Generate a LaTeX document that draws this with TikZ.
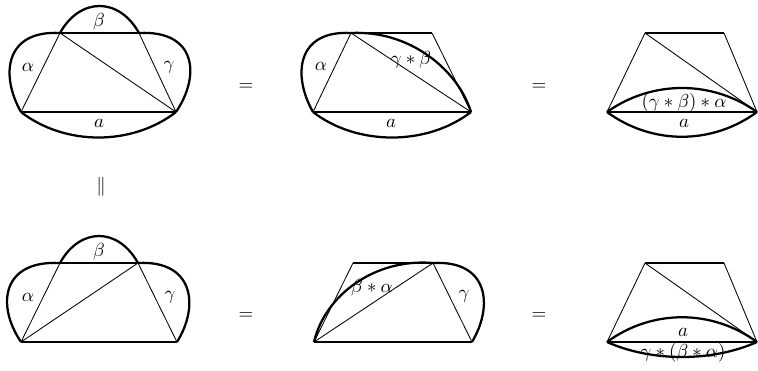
\documentclass[tikz,border=0pt]{standalone}
\begin{document}
\begin{tikzpicture}[x=0.53pt,y=-0.53pt,
  thinline/.style={line width=0.45pt},
  thickline/.style={line width=1.2pt, line join=round},
  lbl/.style={inner sep=0pt}]
\useasboundingbox (0,0) rectangle (758,370);
% ---------- panel 1 (top left)
\coordinate (A1) at (21,112); \coordinate (B1) at (176,112);
\coordinate (C1) at (139,33); \coordinate (D1) at (60,33);
\draw[thinline] (A1) -- (D1) (C1) -- (B1) (D1) -- (B1);
\draw[thickline] (A1) -- (B1) (D1) -- (C1);
\draw[thickline] (A1) .. controls (0,75) and (5,30) .. (D1);
\draw[thickline] (C1) .. controls (196,30) and (201,75) .. (B1);
\draw[thickline] (D1) .. controls (80,-3) and (119,-3) .. (C1);
\draw[thickline] (A1) .. controls (65,146) and (132,146) .. (B1);
\node[lbl] (al1) at (28,67) {$\alpha$};
\node[lbl] (be1) at (99,22) {$\beta$};
\node[lbl] (ga1) at (169,67) {$\gamma$};
\node[lbl] (a1) at (99,123) {$a$};
% ---------- panel 2 (top middle)
\coordinate (A2) at (313,112); \coordinate (B2) at (471,112);
\coordinate (C2) at (432,33); \coordinate (D2) at (351,33);
\draw[thinline] (A2) -- (D2) (C2) -- (B2) (D2) -- (B2);
\draw[thickline] (A2) -- (B2) (D2) -- (C2);
\draw[thickline] (A2) .. controls (292,75) and (297,30) .. (D2);
\draw[thickline] (D2) .. controls (410,30) and (458,70) .. (B2);
\draw[thickline] (A2) .. controls (357,146) and (427,146) .. (B2);
\node[lbl] (al2) at (321,66) {$\alpha$};
\node[lbl] (gb2) at (411,60) {$\gamma*\beta$};
\node[lbl] (a2) at (391,123) {$a$};
% ---------- panel 3 (top right)
\coordinate (A3) at (607,112); \coordinate (B3) at (757,112);
\coordinate (C3) at (724,33); \coordinate (D3) at (645,33);
\draw[thinline] (A3) -- (D3) (C3) -- (B3) (D3) -- (B3);
\draw[thickline] (D3) -- (C3) (A3) -- (B3);
\draw[thickline] (A3) .. controls (652,80) and (712,80) .. (B3);
\draw[thickline] (A3) .. controls (652,145) and (712,145) .. (B3);
\node[lbl] (gba3) at (684,103) {$(\gamma*\beta)*\alpha$};
\node[lbl] (a3) at (684,123) {$a$};
% ---------- panel 4 (bottom left)
\coordinate (A4) at (21,342); \coordinate (B4) at (177,342);
\coordinate (C4) at (138,263); \coordinate (D4) at (60,263);
\draw[thinline] (A4) -- (D4) (C4) -- (B4) (A4) -- (C4);
\draw[thickline] (A4) -- (B4) (D4) -- (C4);
\draw[thickline] (A4) .. controls (-4,305) and (2,260) .. (D4);
\draw[thickline] (C4) .. controls (193,260) and (200,305) .. (B4);
\draw[thickline] (D4) .. controls (80,227) and (118,227) .. (C4);
\node[lbl] (al4) at (28,297) {$\alpha$};
\node[lbl] (be4) at (99,252) {$\beta$};
\node[lbl] (ga4) at (170,297) {$\gamma$};
% ---------- panel 5 (bottom middle)
\coordinate (A5) at (314,342); \coordinate (B5) at (472,342);
\coordinate (C5) at (433,263); \coordinate (D5) at (353,263);
\draw[thinline] (A5) -- (D5) (C5) -- (B5) (A5) -- (C5);
\draw[thickline] (A5) -- (B5) (D5) -- (C5);
\draw[thickline] (A5) .. controls (325,295) and (375,258) .. (C5);
\draw[thickline] (C5) .. controls (488,260) and (494,305) .. (B5);
\node[lbl] (ba5) at (372,288) {$\beta*\alpha$};
\node[lbl] (ga5) at (464,296) {$\gamma$};
% ---------- panel 6 (bottom right)
\coordinate (A6) at (607,342); \coordinate (B6) at (757,342);
\coordinate (C6) at (724,263); \coordinate (D6) at (645,263);
\draw[thinline] (A6) -- (D6) (C6) -- (B6) (D6) -- (B6);
\draw[thickline] (D6) -- (C6) (A6) -- (B6);
\draw[thickline] (A6) .. controls (652,309) and (712,309) .. (B6);
\draw[thickline] (A6) .. controls (652,362) and (712,362) .. (B6);
\node[lbl] (a6) at (683,332) {$a$};
\node[lbl] (gba6) at (683,353) {$\gamma*(\beta*\alpha)$};
% ---------- relations
\node[lbl] (eq1) at (246,87) {$=$};
\node[lbl] (eq2) at (539,87) {$=$};
\node[lbl] (eq3) at (246,316) {$=$};
\node[lbl] (eq4) at (539,316) {$=$};
\node[lbl] (par) at (101,187) {$\|$};
\end{tikzpicture}
\end{document}
